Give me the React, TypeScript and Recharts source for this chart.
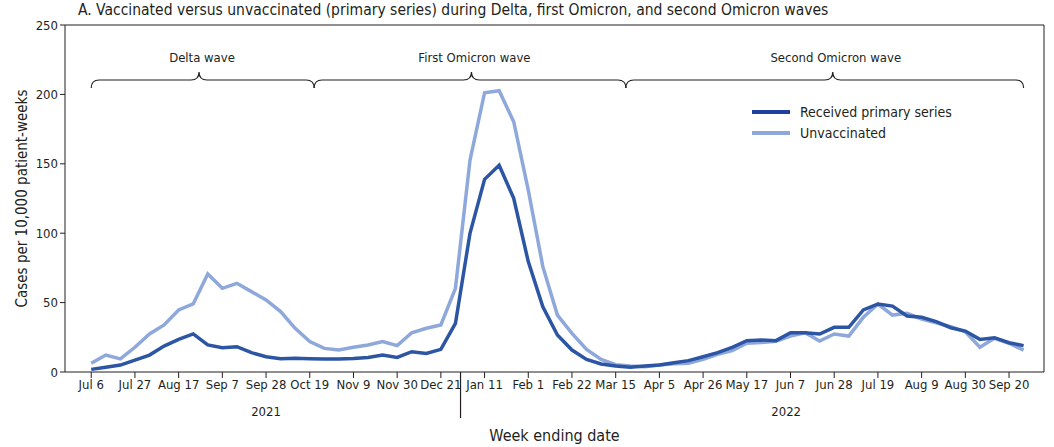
import React from 'react';
import {
  LineChart,
  Line,
  XAxis,
  YAxis,
  ReferenceLine
} from 'recharts';

// weekly rates, week 0 = week ending Jul 6 2021
const receivedPrimary = [
  1.9, 3.4, 5, 8.6, 12.2, 18.7, 23.5, 27.4, 19.5, 17.5, 18.2, 13.9, 11, 9.6, 9.9, 9.6,
  9.4, 9.4, 9.8, 10.5, 12.2, 10.5, 14.6, 13.4, 16.3, 35, 99.9, 138.8, 148.9, 125.1, 79.5,
  47, 26.7, 15.8, 9.1, 5.8, 4.3, 3.4, 4.3, 5, 6.7, 8.2, 11, 13.9, 17.8, 22.6, 23, 22.6,
  28.3, 28.3, 27.4, 32.2, 32.2, 44.7, 49, 47.5, 40.3, 39.4, 36.3, 31.9, 29.5, 23.5, 24.7,
  21.1, 19
];
const unvaccinated = [
  6.3, 12.2, 9.4, 17.8, 27.4, 33.9, 44.7, 49, 70.6, 60.3, 63.9, 57.9, 51.9, 43.5, 31.5, 22,
  17, 15.8, 17.8, 19.5, 22, 19, 28.3, 31.5, 33.9, 60.3, 152.7, 201.2, 202.7, 180.3, 131,
  75.9, 41, 27.8, 16.3, 9, 5.3, 4.3, 3.8, 5, 6, 6.3, 9.1, 12.7, 15.4, 20.7, 21.2, 22.1,
  25.9, 28.3, 22.3, 27.4, 25.9, 39.4, 49, 41, 42.3, 38.2, 35.5, 32.6, 29, 17.8, 24.3,
  20.7, 15.8
];
const tickLabels = [
  'Jul 6', 'Jul 27', 'Aug 17', 'Sep 7', 'Sep 28', 'Oct 19', 'Nov 9', 'Nov 30', 'Dec 21',
  'Jan 11', 'Feb 1', 'Feb 22', 'Mar 15', 'Apr 5', 'Apr 26', 'May 17', 'Jun 7', 'Jun 28',
  'Jul 19', 'Aug 9', 'Aug 30', 'Sep 20'
];
const yTicks = [0, 50, 100, 150, 200, 250];
// waves: start week, tip week, end week
const waves = [
  { name: 'Delta wave', start: 0, tip: 7.4, end: 15.3 },
  { name: 'First Omicron wave', start: 15.3, tip: 26.1, end: 36.7 },
  { name: 'Second Omicron wave', start: 36.7, tip: 50.9, end: 64 }
];
const years = [
  { label: '2021', at: 12 },
  { label: '2022', at: 47.7 }
];
const yearBreak = 25.35;

const W = 1054;
const H = 447;
const LEFT = 65;
const RIGHT = 10;
const TOP = 25;
const BOTTOM = 75;
const X_MIN = -1.8;
const X_MAX = 65.4;

const DARK = '#2c56a3';
const LIGHT = '#8ea8dc';
const AXIS = '#231f20';
const FONT = "'Liberation Sans Narrow', 'DejaVu Sans Condensed', 'Open Sans', sans-serif";

const chartData = receivedPrimary.map((v, i) => ({
  week: i,
  vacc: v,
  unvacc: unvaccinated[i]
}));
const xTicks = tickLabels.map((_, i) => i * 3);

const xPx = (w: number) => LEFT + ((w - X_MIN) / (X_MAX - X_MIN)) * (W - LEFT - RIGHT);

function bracePath(x1: number, xm: number, x2: number) {
  const yEnd = 88, yMid = 80, yTip = 72, r = 8;
  return `M${x1},${yEnd} Q${x1},${yMid} ${x1 + r},${yMid} L${xm - r},${yMid} Q${xm},${yMid} ${xm},${yTip} ` +
    `Q${xm},${yMid} ${xm + r},${yMid} L${x2 - r},${yMid} Q${x2},${yMid} ${x2},${yEnd}`;
}

const legendItems = [
  { label: 'Received primary series', color: '#1f3f9c' },
  { label: 'Unvaccinated', color: LIGHT }
];

export default function App() {
  return (
    <div style={{ position: 'absolute', left: 0, top: 0, width: W, height: H, background: '#fff' }}>
      <LineChart width={W} height={H} data={chartData} margin={{ top: TOP, right: RIGHT, left: 0, bottom: 0 }}>
        <XAxis
          dataKey="week"
          type="number"
          domain={[X_MIN, X_MAX]}
          ticks={xTicks}
          interval={0}
          tickFormatter={(v: number) => tickLabels[v / 3]}
          height={BOTTOM}
          stroke={AXIS}
          tickSize={6}
          tick={{ fill: AXIS, fontSize: 13, fontFamily: FONT }}
          allowDataOverflow
        />
        <YAxis
          domain={[0, 250]}
          ticks={yTicks}
          width={LEFT}
          stroke={AXIS}
          tickSize={5}
          tick={{ fill: AXIS, fontSize: 13, fontFamily: FONT }}
        />
        <ReferenceLine y={250} stroke={AXIS} strokeWidth={1} />
        <ReferenceLine x={X_MAX} stroke={AXIS} strokeWidth={1} />
        <Line
          dataKey="unvacc"
          name="Unvaccinated"
          stroke={LIGHT}
          strokeWidth={3.5}
          dot={false}
          type="linear"
          isAnimationActive={false}
        />
        <Line
          dataKey="vacc"
          name="Received primary series"
          stroke={DARK}
          strokeWidth={3.5}
          dot={false}
          type="linear"
          isAnimationActive={false}
        />
      </LineChart>
      <svg
        width={W}
        height={H}
        style={{ position: 'absolute', left: 0, top: 0, pointerEvents: 'none' }}
        fontFamily={FONT}
      >
        <text x={78} y={15} fontSize={15.5} fill={AXIS}>
          A. Vaccinated versus unvaccinated (primary series) during Delta, first Omicron, and second Omicron waves
        </text>
        {waves.map(w => (
          <g key={w.name}>
            <path d={bracePath(xPx(w.start), xPx(w.tip), xPx(w.end))} fill="none" stroke={AXIS} strokeWidth={1.2} />
            <text x={xPx(w.tip) + 3} y={62} fontSize={13} textAnchor="middle" fill={AXIS}>{w.name}</text>
          </g>
        ))}
        {legendItems.map((it, i) => (
          <g key={it.label}>
            <line x1={752} x2={790} y1={112 + i * 21} y2={112 + i * 21} stroke={it.color} strokeWidth={4} />
            <text x={800} y={117 + i * 21} fontSize={14} fill={AXIS}>{it.label}</text>
          </g>
        ))}
        <line x1={xPx(yearBreak)} x2={xPx(yearBreak)} y1={H - BOTTOM} y2={418} stroke={AXIS} strokeWidth={1.2} />
        {years.map(y => (
          <text key={y.label} x={xPx(y.at)} y={416} fontSize={13} textAnchor="middle" fill={AXIS}>{y.label}</text>
        ))}
        <text x={(LEFT + W - RIGHT) / 2} y={441} fontSize={16} textAnchor="middle" fill={AXIS}>Week ending date</text>
        <text
          x={0}
          y={0}
          fontSize={15}
          textAnchor="middle"
          fill={AXIS}
          transform={`translate(27,${(TOP + H - BOTTOM) / 2}) rotate(-90)`}
        >
          Cases per 10,000 patient-weeks
        </text>
      </svg>
    </div>
  );
}
